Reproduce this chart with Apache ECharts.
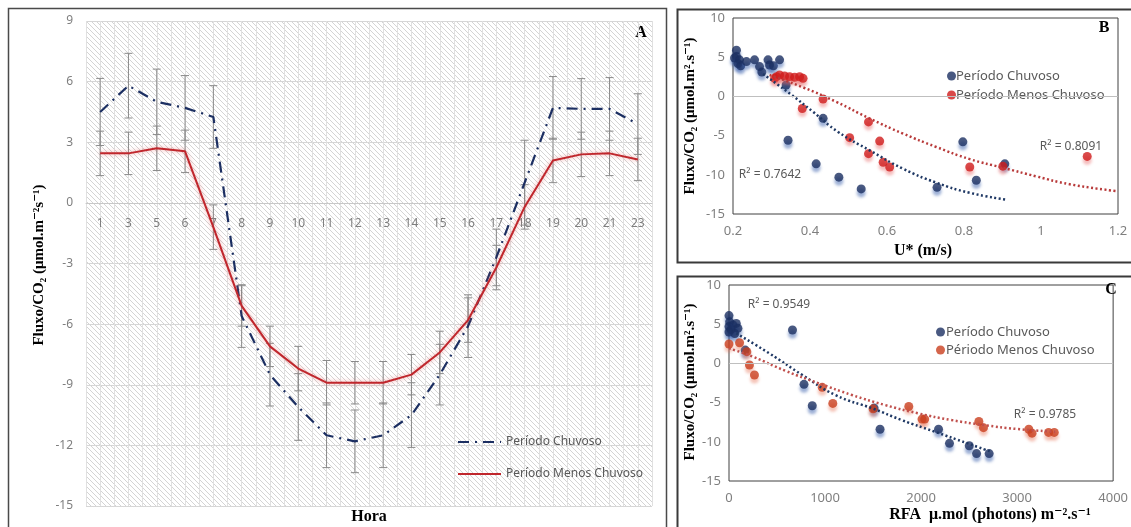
<!DOCTYPE html>
<html>
<head>
<meta charset="utf-8">
<script src="https://cdn.jsdelivr.net/npm/echarts@6/dist/echarts.min.js"></script>
<style>
  html, body { margin: 0; padding: 0; background: #fff; }
  #chart { width: 1131px; height: 527px; }
</style>
</head>
<body>
<div id="chart"></div>
<script>
// painel A - ciclo diário
const hours = ['1','3','5','6','7','8','9','10','11','12','13','14','15','16','17','18','19','20','21','23'];
const chuvoso = [4.5, 5.8, 5.0, 4.7, 4.25, -5.6, -8.5, -10.1, -11.5, -11.8, -11.5, -10.5, -8.5, -6.1, -2.7, 1.0, 4.7, 4.65, 4.65, 3.9];
const chuvosoErr = [1.66, 1.6, 1.62, 1.6, 1.55, 1.55, 1.55, 1.65, 1.6, 1.55, 1.6, 1.6, 1.5, 1.55, 1.4, 2.1, 1.55, 1.5, 1.55, 1.5];
const menos = [2.45, 2.45, 2.7, 2.55, -1.2, -5.1, -7.1, -8.2, -8.9, -8.9, -8.9, -8.5, -7.4, -5.8, -3.2, -0.2, 2.1, 2.4, 2.45, 2.15];
const menosErr = [1.1, 1.05, 1.1, 1.05, 1.1, 1.0, 1.0, 1.1, 1.1, 1.05, 1.05, 1.0, 1.05, 1.1, 1.1, 1.1, 1.1, 1.1, 1.1, 1.05];
const yTicksA = [-15, 9, 3];

// painel B - U*
const bChuvoso = [[0.209,5.9],[0.209,5.1],[0.204,4.9],[0.217,4.66],[0.213,4.2],[0.22,3.9],[0.235,4.44],[0.256,4.66],
  [0.269,3.8],[0.275,3.1],[0.291,4.66],[0.295,4.0],[0.305,3.9],[0.321,4.66],[0.338,1.45],[0.343,-5.6],[0.416,-8.6],
  [0.434,-2.8],[0.475,-10.3],[0.533,-11.8],[0.73,-11.6],[0.797,-5.8],[0.832,-10.7],[0.906,-8.6]];
const bMenos = [[0.308,2.3],[0.313,2.52],[0.321,2.73],[0.334,2.6],[0.347,2.52],[0.36,2.43],[0.373,2.5],[0.382,2.3],
  [0.38,-1.54],[0.434,-0.34],[0.503,-5.26],[0.552,-3.25],[0.552,-7.3],[0.581,-5.7],[0.59,-8.4],[0.607,-9.0],
  [0.815,-9.0],[0.901,-8.9],[1.12,-7.65]];
const bTrendChuvoso = [[0.278,2.86],[0.347,0.38],[0.408,-1.97],[0.473,-4.53],[0.555,-6.88],[0.642,-9.23],[0.728,-11.0],[0.815,-12.3],[0.91,-13.17]];
const bTrendMenos = [[0.295,2.73],[0.382,1.15],[0.468,-0.69],[0.555,-2.82],[0.642,-4.75],[0.728,-6.45],[0.815,-8.0],[0.901,-9.1],[0.988,-10.2],[1.074,-11.2],[1.2,-12.1]];

// painel C - RFA
const cChuvoso = [[0,6.1],[7,5.3],[0,4.7],[41,4.9],[76,5.1],[93,4.47],[20,4.3],[0,4.0],[60,3.8],[169,1.7],[661,4.26],
  [781,-2.67],[867,-5.4],[1511,-5.7],[1573,-8.4],[2182,-8.4],[2296,-10.2],[2502,-10.5],[2578,-11.5],[2709,-11.5]];
const cMenos = [[0,2.47],[110,2.64],[186,1.5],[213,-0.2],[265,-1.48],[971,-3.05],[1081,-5.1],[1500,-5.8],[1872,-5.5],
  [2010,-7.1],[2038,-7.1],[2602,-7.4],[2650,-8.2],[3122,-8.4],[3156,-8.9],[3328,-8.8],[3387,-8.8]];
const cTrendChuvoso = [[76,3.83],[420,1.28],[764,-1.48],[1108,-4.03],[1511,-5.82],[1797,-7.22],[2141,-8.71],[2485,-10.2],[2726,-11.26]];
const cTrendMenos = [[0,1.92],[248,0.86],[592,-0.97],[936,-2.54],[1280,-4.03],[1625,-5.31],[1969,-6.37],[2313,-7.22],[2657,-7.86],[3001,-8.37],[3397,-8.71]];

const navy = '#1c2f62';
const redB = '#d01c1c';
const redC = '#c93e1e';
const gray = '#7f7f7f';
const sans = '"Noto Sans", sans-serif';
const serif = '"Liberation Serif", "DejaVu Serif", serif';

// área do painel A
const gA = { left: 86, top: 21, width: 566, height: 485 };

// fundo hachurado do painel A (só decoração)
const hatch = document.createElement('canvas');
hatch.width = gA.width; hatch.height = gA.height;
const hctx = hatch.getContext('2d');
hctx.strokeStyle = '#d4d4d4';
hctx.lineWidth = 1;
hctx.beginPath();
for (let s = -gA.height; s < gA.width; s += 5) {
  hctx.moveTo(s, 0);
  hctx.lineTo(s + gA.height, gA.height);
}
hctx.stroke();

function errBar(values, errs) {
  return values.map((v, i) => [i, v - errs[i], v + errs[i]]);
}

function renderErr(params, api) {
  const lo = api.coord([api.value(0), api.value(1)]);
  const hi = api.coord([api.value(0), api.value(2)]);
  const w = 4;
  const style = { stroke: '#8a8a8a', lineWidth: 1 };
  return {
    type: 'group',
    children: [
      { type: 'line', shape: { x1: lo[0], y1: lo[1], x2: hi[0], y2: hi[1] }, style },
      { type: 'line', shape: { x1: lo[0] - w, y1: lo[1], x2: lo[0] + w, y2: lo[1] }, style },
      { type: 'line', shape: { x1: hi[0] - w, y1: hi[1], x2: hi[0] + w, y2: hi[1] }, style }
    ]
  };
}

function txt(text, x, y, font, fill, rotation) {
  return {
    type: 'text', x, y, rotation: rotation || 0,
    style: { text, font, fill: fill || '#000', align: 'center', verticalAlign: 'middle',
      textAlign: 'center', textVerticalAlign: 'middle' }
  };
}

const zeroLine = {
  silent: true, symbol: 'none', label: { show: false },
  lineStyle: { color: '#bfbfbf', type: 'solid', width: 1 },
  data: [{ yAxis: 0 }]
};

const scatterStyle = (c, sh) => ({
  color: c, shadowBlur: 3, shadowOffsetY: 4, shadowColor: sh
});

// eixo das horas fica sobre o zero
const zeroOffsetA = -gA.height * (0 - yTicksA[0]) / (yTicksA[1] - yTicksA[0]);

const chart = echarts.init(document.getElementById('chart'));
chart.setOption({
  animation: false,
  textStyle: { fontFamily: sans },
  grid: [
    gA,
    { left: 733, top: 18, width: 385, height: 196, show: true, borderColor: '#404040', borderWidth: 1 },
    { left: 729, top: 285, width: 388, height: 196, show: true, borderColor: '#404040', borderWidth: 1 }
  ],
  xAxis: [
    { type: 'category', gridIndex: 0, data: hours, boundaryGap: true, position: 'bottom', offset: zeroOffsetA,
      axisLine: { onZero: false, lineStyle: { color: '#c8c8c8' } }, axisTick: { show: false },
      axisLabel: { color: gray, fontSize: 12, margin: 15 },
      splitLine: { show: false } },
    { type: 'value', gridIndex: 0, position: 'top', min: 0, max: 40, interval: 1,
      axisLine: { show: false, onZero: false }, axisTick: { show: false }, axisLabel: { show: false },
      splitLine: { show: true, lineStyle: { color: '#e0e0e0' } } },
    { type: 'value', gridIndex: 1, min: 0.2, max: 1.2, interval: 0.2,
      axisLine: { show: false }, axisTick: { show: false }, splitLine: { show: false },
      axisLabel: { color: gray, fontSize: 13, margin: 11 } },
    { type: 'value', gridIndex: 2, min: 0, max: 4000, interval: 1000,
      axisLine: { show: false }, axisTick: { show: false }, splitLine: { show: false },
      axisLabel: { color: gray, fontSize: 13, margin: 11, formatter: v => String(v) } }
  ],
  yAxis: [
    { type: 'value', gridIndex: 0, min: yTicksA[0], max: yTicksA[1], interval: yTicksA[2],
      axisLine: { show: false, onZero: false }, axisTick: { show: false },
      axisLabel: { color: gray, fontSize: 12, margin: 13 },
      splitLine: { lineStyle: { color: '#d6d6d6' } } },
    { type: 'value', gridIndex: 1, min: -15, max: 10, interval: 5,
      axisLine: { show: false }, axisTick: { show: false }, splitLine: { show: false },
      axisLabel: { color: gray, fontSize: 13, margin: 8 } },
    { type: 'value', gridIndex: 2, min: -15, max: 10, interval: 5,
      axisLine: { show: false }, axisTick: { show: false }, splitLine: { show: false },
      axisLabel: { color: gray, fontSize: 13, margin: 8 } }
  ],
  legend: [
    { data: ['A: Período Chuvoso', 'A: Período Menos Chuvoso'], left: 452, top: 431, orient: 'vertical',
      itemWidth: 43, itemHeight: 14, itemGap: 20, selectedMode: false, itemStyle: { opacity: 0 },
      formatter: n => n.slice(3), textStyle: { color: '#595959', fontSize: 12 } },
    { data: ['B: Período Chuvoso', 'B: Período Menos Chuvoso'], left: 942, top: 64, orient: 'vertical',
      icon: 'circle', itemWidth: 9, itemHeight: 9, itemGap: 5, selectedMode: false,
      formatter: n => n.slice(3), textStyle: { color: '#595959', fontSize: 13, lineHeight: 14, padding: [0, 0, 0, -5] } },
    { data: ['C: Período Chuvoso', 'C: Périodo Menos Chuvoso'], left: 931, top: 320, orient: 'vertical',
      icon: 'circle', itemWidth: 9, itemHeight: 9, itemGap: 4, selectedMode: false,
      formatter: n => n.slice(3), textStyle: { color: '#595959', fontSize: 13, lineHeight: 14, padding: [0, 0, 0, -4] } }
  ],
  graphic: [
    { type: 'rect', z: -20, shape: { x: 8.5, y: 8.5, width: 658, height: 540 },
      style: { fill: '#fff', stroke: '#4a4a4a', lineWidth: 1.5 } },
    { type: 'image', z: -10, x: gA.left, y: gA.top,
      style: { image: hatch, x: 0, y: 0, width: gA.width, height: gA.height } },
    { type: 'rect', z: -20, shape: { x: 677.5, y: 9.5, width: 470, height: 253 },
      style: { fill: '#fff', stroke: '#3a3a3a', lineWidth: 2 } },
    { type: 'rect', z: -20, shape: { x: 677.5, y: 276.5, width: 470, height: 270 },
      style: { fill: '#fff', stroke: '#3a3a3a', lineWidth: 2 } },
    txt('Fluxo/CO₂ (μmol.m⁻²s⁻¹)', 39, 265, 'bold 15px ' + serif, '#000', Math.PI / 2),
    txt('Hora', 369, 517, 'bold 16px ' + serif),
    txt('A', 641, 33, 'bold 16px ' + serif),
    txt('Fluxo/CO₂ (μmol.m².s⁻¹)', 690, 116, 'bold 15px ' + serif, '#000', Math.PI / 2),
    txt('U* (m/s)', 923, 251, 'bold 16px ' + serif),
    txt('B', 1104, 28, 'bold 16px ' + serif),
    txt('R² = 0.7642', 770, 175, '12px ' + sans, '#595959'),
    txt('R² = 0.8091', 1071, 147, '12px ' + sans, '#595959'),
    txt('Fluxo/CO₂ (μmol.m².s⁻¹)', 690, 382, 'bold 15px ' + serif, '#000', Math.PI / 2),
    txt('RFA  μ.mol (photons) m⁻².s⁻¹', 990, 515, 'bold 16px ' + serif),
    txt('C', 1111, 290, 'bold 16px ' + serif),
    txt('R² = 0.9549', 779, 305, '12px ' + sans, '#595959'),
    txt('R² = 0.9785', 1045, 415, '12px ' + sans, '#595959')
  ],
  series: [
    { type: 'custom', name: 'errA1', xAxisIndex: 0, yAxisIndex: 0, renderItem: renderErr,
      data: errBar(chuvoso, chuvosoErr), encode: { x: 0, y: [1, 2] }, z: 3 },
    { type: 'custom', name: 'errA2', xAxisIndex: 0, yAxisIndex: 0, renderItem: renderErr,
      data: errBar(menos, menosErr), encode: { x: 0, y: [1, 2] }, z: 3 },
    { type: 'line', name: 'A: Período Chuvoso', xAxisIndex: 0, yAxisIndex: 0, data: chuvoso,
      symbol: 'none', z: 4,
      lineStyle: { color: navy, width: 2.2, type: [11, 6, 2, 6] }, itemStyle: { color: navy } },
    { type: 'line', name: 'A: Período Menos Chuvoso', xAxisIndex: 0, yAxisIndex: 0, data: menos,
      symbol: 'none', z: 4,
      lineStyle: { color: '#c0272d', width: 2, shadowColor: 'rgba(235,90,90,0.55)', shadowBlur: 4 },
      itemStyle: { color: '#c0272d' } },

    { type: 'line', name: 'trendB1', xAxisIndex: 2, yAxisIndex: 1, data: bTrendChuvoso, smooth: true,
      symbol: 'none', lineStyle: { color: '#1f3864', width: 2.5, type: [2, 2.5] } },
    { type: 'line', name: 'trendB2', xAxisIndex: 2, yAxisIndex: 1, data: bTrendMenos, smooth: true,
      symbol: 'none', lineStyle: { color: '#b83a3a', width: 2.5, type: [2, 2.5] } },
    { type: 'scatter', name: 'B: Período Chuvoso', xAxisIndex: 2, yAxisIndex: 1, data: bChuvoso,
      symbolSize: 9, itemStyle: scatterStyle(navy, 'rgba(50,90,170,0.6)'), markLine: zeroLine },
    { type: 'scatter', name: 'B: Período Menos Chuvoso', xAxisIndex: 2, yAxisIndex: 1, data: bMenos,
      symbolSize: 9, itemStyle: scatterStyle(redB, 'rgba(230,90,90,0.5)') },

    { type: 'line', name: 'trendC1', xAxisIndex: 3, yAxisIndex: 2, data: cTrendChuvoso, smooth: true,
      symbol: 'none', lineStyle: { color: '#1f3864', width: 2.5, type: [2, 2.5] } },
    { type: 'line', name: 'trendC2', xAxisIndex: 3, yAxisIndex: 2, data: cTrendMenos, smooth: true,
      symbol: 'none', lineStyle: { color: '#c0504d', width: 2.5, type: [2, 2.5] } },
    { type: 'scatter', name: 'C: Período Chuvoso', xAxisIndex: 3, yAxisIndex: 2, data: cChuvoso,
      symbolSize: 9, itemStyle: scatterStyle(navy, 'rgba(50,90,170,0.6)'), markLine: zeroLine },
    { type: 'scatter', name: 'C: Périodo Menos Chuvoso', xAxisIndex: 3, yAxisIndex: 2, data: cMenos,
      symbolSize: 9, itemStyle: scatterStyle(redC, 'rgba(230,110,80,0.5)') }
  ]
});
</script>
</body>
</html>
